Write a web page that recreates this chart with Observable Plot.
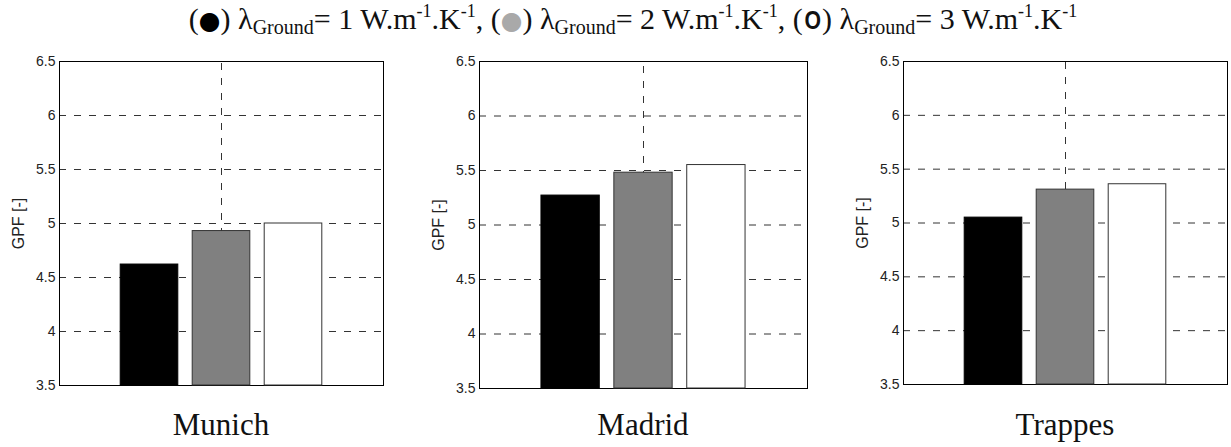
<!DOCTYPE html>
<html>
<head>
<meta charset="utf-8">
<script src="https://cdn.jsdelivr.net/npm/d3@7"></script>
<script src="https://cdn.jsdelivr.net/npm/@observablehq/plot@0.6"></script>
<style>
  html, body { margin: 0; padding: 0; background: #fff; }
  #root { position: relative; width: 1231px; height: 447px; overflow: hidden; }
  .panel { position: absolute; }
  .city { position: absolute; font-family: "Liberation Serif", "Times New Roman", serif; font-size: 31px; color: #111; text-align: center; width: 200px; }
  #title { position: absolute; left: 0; width: 1266px; top: 2px; text-align: center; font-family: "Liberation Serif", "Times New Roman", serif; font-size: 30px; color: #111; white-space: nowrap; }
  #title sub { font-size: 20px; vertical-align: -5px; line-height: 0; }
  #title sup { font-size: 18px; vertical-align: 12px; line-height: 0; }
  .sym { font-family: "DejaVu Sans", sans-serif; font-size: 25px; }
  .ring { display: inline-block; font-family: "Liberation Sans", Arial, sans-serif; font-size: 25px; font-weight: bold; transform: scaleX(0.85); }
</style>
</head>
<body>
<div id="root"></div>
<script>
// ---- data ----
const cities = ["Munich", "Madrid", "Trappes"];
const conductivity = [1, 2, 3];            // λ_Ground, W.m-1.K-1 (bar position)
const gpfMunich  = [4.62, 4.93, 5.00];
const gpfMadrid  = [5.27, 5.48, 5.55];
const gpfTrappes = [5.05, 5.31, 5.36];
const yTicks = [3.5, 4, 4.5, 5, 5.5, 6, 6.5];
const yLabel = "GPF [-]";
const barFills = ["#000000", "#808080", "#ffffff"];
const legendFills = ["#000000", "#a9a9a9", "none"];

const series = [gpfMunich, gpfMadrid, gpfTrappes];

// ---- layout (frame positions in page pixels) ----
const layout = [
  {frameLeft: 59,  frameTop: 61, frameW: 324, frameH: 324},
  {frameLeft: 479, frameTop: 61, frameW: 328, frameH: 327},
  {frameLeft: 903, frameTop: 61, frameW: 324, frameH: 323}
];
const ML = 60, MT = 12, MB = 12, MR = 3;

const root = document.getElementById("root");

// title
const title = document.createElement("div");
title.id = "title";
const parts = conductivity.map((k, i) => {
  const sym = i < 2
    ? `<span class="sym" style="color:${legendFills[i]}">●</span>`
    : `<span class="ring">O</span>`;
  return `(${sym}) λ<sub>Ground</sub>= ${k} W.m<sup>-1</sup>.K<sup>-1</sup>`;
});
title.innerHTML = parts.join(", ");
root.appendChild(title);

const yMin = yTicks[0], yMax = yTicks[yTicks.length - 1];
const dash = "7,8";

cities.forEach((city, ci) => {
  const L = layout[ci];
  const data = conductivity.map((k, i) => ({k, v: series[ci][i], fill: barFills[i]}));
  const chart = Plot.plot({
    width: ML + L.frameW + MR,
    height: MT + L.frameH + MB,
    marginLeft: ML, marginRight: MR, marginTop: MT, marginBottom: MB,
    x: {domain: [conductivity[0] - 1.25, conductivity[2] + 1.25], axis: null},
    y: {domain: [yMin, yMax], ticks: yTicks},
    style: {fontFamily: "'Liberation Sans', Arial, sans-serif", fontSize: "14px", color: "#222", background: "white"},
    marks: [
      Plot.ruleY(yTicks.slice(1), {stroke: "#333", strokeWidth: 1, strokeDasharray: dash}),
      Plot.ruleX([conductivity[1]], {y1: yMin, y2: yMax, stroke: "#333", strokeWidth: 1, strokeDasharray: dash}),
      Plot.frame({stroke: "#000", strokeWidth: 1}),
      Plot.axisY(yTicks, {
        anchor: "left", tickSize: 0, tickPadding: 4, fontSize: 14,
        tickFormat: d => String(d), label: null
      }),
      Plot.text([yLabel], {
        frameAnchor: "left", rotate: -90, dx: -41, fontSize: 16,
        textAnchor: "middle", fill: "#222"
      }),
      Plot.rect(data, {
        x1: d => d.k - 0.4, x2: d => d.k + 0.4,
        y1: () => yMin, y2: "v",
        fill: "fill", stroke: d => d.fill === "#000000" ? "#000" : "#333", strokeWidth: 1
      })
    ]
  });
  const wrap = document.createElement("div");
  wrap.className = "panel";
  wrap.style.left = (L.frameLeft - ML) + "px";
  wrap.style.top = (L.frameTop - MT) + "px";
  wrap.appendChild(chart);
  root.appendChild(wrap);

  const lab = document.createElement("div");
  lab.className = "city";
  lab.textContent = city;
  lab.style.left = (L.frameLeft + L.frameW / 2 - 100) + "px";
  lab.style.top = "407px";
  root.appendChild(lab);
});
</script>
</body>
</html>
